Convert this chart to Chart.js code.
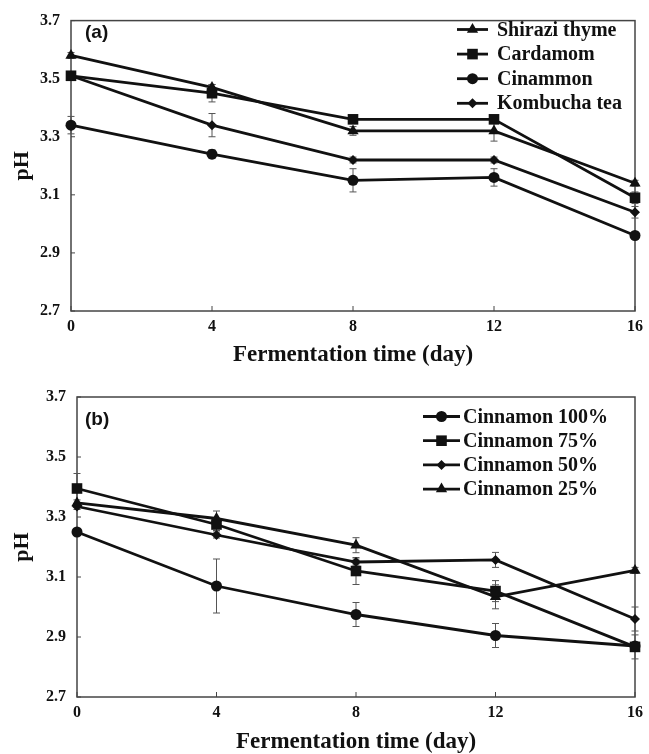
<!DOCTYPE html>
<html>
<head>
<meta charset="utf-8">
<script src="https://cdn.jsdelivr.net/npm/chart.js@4.4.0/dist/chart.umd.min.js"></script>
<style>
  html, body { margin: 0; padding: 0; background: #fff; }
  #wrap { position: relative; width: 649px; height: 754px; }
  .panel { position: absolute; left: 0; width: 649px; }
  #panelA { top: 0; height: 370px; }
  #panelB { top: 370px; height: 384px; }
</style>
</head>
<body>
<div id="wrap">
  <div class="panel" id="panelA"><canvas id="chartA" width="649" height="370"></canvas></div>
  <div class="panel" id="panelB"><canvas id="chartB" width="649" height="384"></canvas></div>
</div>
<script>
var days = [0, 4, 8, 12, 16];
var yTicks = [2.7, 2.9, 3.1, 3.3, 3.5, 3.7];

// panel (a) - herbal kombucha
var namesA = ['Shirazi thyme', 'Cardamom', 'Cinammon', 'Kombucha tea'];
var thymePH = [3.58, 3.47, 3.32, 3.32, 3.14];
var cardamomPH = [3.51, 3.45, 3.36, 3.36, 3.09];
var cinammonPH = [3.34, 3.24, 3.15, 3.16, 2.96];
var kombuchaPH = [3.51, 3.34, 3.22, 3.22, 3.04];
var thymeErr = [0.01, 0.01, 0.015, 0.035, 0.01];
var cardamomErr = [0.01, 0.03, 0.01, 0.01, 0.02];
var cinammonErr = [0.03, 0.015, 0.04, 0.03, 0.01];
var kombuchaErr = [0.01, 0.04, 0.01, 0.01, 0.02];

// panel (b) - cinnamon levels
var namesB = ['Cinnamon 100%', 'Cinnamon 75%', 'Cinnamon 50%', 'Cinnamon 25%'];
var cin100PH = [3.25, 3.07, 2.975, 2.905, 2.87];
var cin75PH = [3.395, 3.275, 3.12, 3.053, 2.867];
var cin50PH = [3.335, 3.24, 3.15, 3.157, 2.96];
var cin25PH = [3.347, 3.295, 3.206, 3.034, 3.122];
var cin100Err = [0.01, 0.09, 0.04, 0.04, 0.01];
var cin75Err = [0.05, 0.02, 0.045, 0.035, 0.04];
var cin50Err = [0.01, 0.01, 0.01, 0.025, 0.04];
var cin25Err = [0.01, 0.025, 0.025, 0.04, 0.01];

var serif = '"Liberation Serif", "Times New Roman", serif';
var ink = '#111';

var markers = {
  triangle: { pointStyle: 'triangle', radius: 6.5 },
  rect: { pointStyle: 'rect', radius: 7.5 },
  circle: { pointStyle: 'circle', radius: 5.5 },
  diamond: { pointStyle: 'rectRot', radius: 5 }
};

function series(label, vals, errs, mk) {
  return {
    label: label,
    data: days.map(function(d, i) { return { x: d, y: vals[i] }; }),
    errors: errs,
    borderColor: ink,
    backgroundColor: ink,
    borderWidth: 2.8,
    pointStyle: mk.pointStyle,
    pointRadius: mk.radius,
    pointBorderWidth: 0,
    pointBackgroundColor: ink,
    tension: 0,
    clip: false
  };
}

// frame, inner ticks, error bars, legend and panel tag
var decor = {
  id: 'decor',
  beforeDatasetsDraw: function(chart) {
    var ctx = chart.ctx, a = chart.chartArea;
    var xs = chart.scales.x, ys = chart.scales.y;
    ctx.save();
    ctx.strokeStyle = '#444';
    ctx.lineWidth = 1.5;
    ctx.strokeRect(a.left, a.top, a.right - a.left, a.bottom - a.top);
    ctx.lineWidth = 1;
    days.forEach(function(d) {
      var px = xs.getPixelForValue(d);
      ctx.beginPath(); ctx.moveTo(px, a.bottom); ctx.lineTo(px, a.bottom - 5); ctx.stroke();
    });
    yTicks.forEach(function(v) {
      var py = ys.getPixelForValue(v);
      ctx.beginPath(); ctx.moveTo(a.left, py); ctx.lineTo(a.left + 4, py); ctx.stroke();
    });
    // error bars
    ctx.strokeStyle = '#555';
    ctx.lineWidth = 1;
    chart.data.datasets.forEach(function(ds) {
      ds.data.forEach(function(p, i) {
        var e = ds.errors[i];
        if (!e) return;
        var px = xs.getPixelForValue(p.x);
        var t = ys.getPixelForValue(p.y + e), b = ys.getPixelForValue(p.y - e);
        ctx.beginPath();
        ctx.moveTo(px, t); ctx.lineTo(px, b);
        ctx.moveTo(px - 3.5, t); ctx.lineTo(px + 3.5, t);
        ctx.moveTo(px - 3.5, b); ctx.lineTo(px + 3.5, b);
        ctx.stroke();
      });
    });
    ctx.restore();
  },
  afterDraw: function(chart, args, opts) {
    var ctx = chart.ctx;
    ctx.save();
    ctx.font = 'bold 20px ' + serif;
    ctx.textBaseline = 'middle';
    chart.data.datasets.forEach(function(ds, i) {
      var y = opts.legendY + i * opts.legendGap;
      ctx.strokeStyle = ink;
      ctx.fillStyle = ink;
      ctx.lineWidth = 2.8;
      ctx.beginPath(); ctx.moveTo(opts.lineX1, y); ctx.lineTo(opts.lineX2, y); ctx.stroke();
      Chart.helpers.drawPoint(ctx, { pointStyle: ds.pointStyle, radius: ds.pointRadius, borderWidth: 0, rotation: 0 },
        (opts.lineX1 + opts.lineX2) / 2, y);
      ctx.fillText(ds.label, opts.textX, y + 1);
    });
    ctx.font = 'bold 19px "Liberation Sans", Arial, sans-serif';
    ctx.fillText(opts.tag, 85, opts.tagY);
    ctx.restore();
  }
};

function makeChart(id, datasets, yWidth, xHeight, pad, deco) {
  return new Chart(document.getElementById(id), {
    type: 'line',
    data: { datasets: datasets },
    plugins: [decor],
    options: {
      responsive: false,
      animation: false,
      layout: { padding: pad },
      plugins: { legend: { display: false }, tooltip: { enabled: false }, decor: deco },
      scales: {
        x: {
          type: 'linear', min: 0, max: 16,
          afterBuildTicks: function(s) { s.ticks = days.map(function(d) { return { value: d }; }); },
          afterFit: function(s) { s.height = xHeight; },
          grid: { display: false, drawTicks: false },
          border: { display: false },
          ticks: { padding: 6, color: ink, font: { family: serif, size: 16, weight: 'bold' } },
          title: { display: true, text: 'Fermentation time (day)', color: ink,
                   padding: { top: 0, bottom: 0 },
                   font: { family: serif, size: 23, weight: 'bold', lineHeight: 1 } }
        },
        y: {
          min: 2.7, max: 3.7,
          afterBuildTicks: function(s) { s.ticks = yTicks.map(function(v) { return { value: v }; }); },
          afterFit: function(s) { s.width = yWidth; },
          grid: { display: false, drawTicks: false },
          border: { display: false },
          ticks: { padding: 11, color: ink, callback: function(v) { return v.toFixed(1); },
                   font: { family: serif, size: 16, weight: 'bold' } },
          title: { display: true, text: 'pH', color: ink,
                   padding: { top: 11, bottom: 0 },
                   font: { family: serif, size: 22, weight: 'bold', lineHeight: 1 } }
        }
      }
    }
  });
}

makeChart('chartA', [
  series(namesA[0], thymePH, thymeErr, markers.triangle),
  series(namesA[1], cardamomPH, cardamomErr, markers.rect),
  series(namesA[2], cinammonPH, cinammonErr, markers.circle),
  series(namesA[3], kombuchaPH, kombuchaErr, markers.diamond)
], 71, 55.5, { top: 18, right: 11, left: 0, bottom: 3.5 },
  { legendY: 29.5, legendGap: 24.6, lineX1: 457, lineX2: 488, textX: 497, tag: '(a)', tagY: 33 });

makeChart('chartB', [
  series(namesB[0], cin100PH, cin100Err, markers.circle),
  series(namesB[1], cin75PH, cin75Err, markers.rect),
  series(namesB[2], cin50PH, cin50Err, markers.diamond),
  series(namesB[3], cin25PH, cin25Err, markers.triangle)
], 77, 57, { top: 27, right: 11, left: 0, bottom: 0 },
  { legendY: 46.5, legendGap: 24.2, lineX1: 423, lineX2: 460, textX: 463, tag: '(b)', tagY: 50 });
</script>
</body>
</html>
